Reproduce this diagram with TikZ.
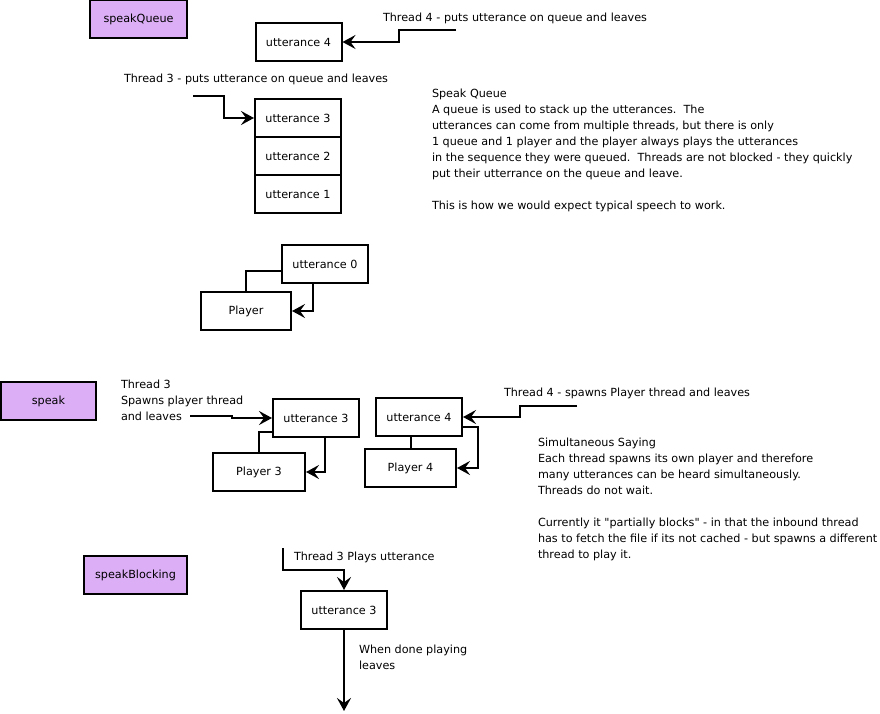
\documentclass[tikz,border=0pt]{standalone}
\usepackage{fontspec}
\setmainfont{DejaVu Sans}
\usepackage{xcolor}
\usepackage{tikz}
\usetikzlibrary{arrows.meta, positioning}

\definecolor{lilac}{RGB}{220,174,246}

\begin{document}
\begin{tikzpicture}[x=1pt, y=-1pt, line width=2pt,
        >={Stealth[length=13pt, width=14pt, inset=5pt]},
        font=\fontsize{11.2}{16}\selectfont,
        box/.style={draw, minimum width=86, minimum height=38, inner sep=0},
        api/.style={box, fill=lilac},
        note/.style={anchor=base west, inner sep=0},
        para/.style={anchor=north west, align=left, inner sep=0}]
        \useasboundingbox (0,0) rectangle (880,714);

        \node[api, minimum width=97] (speakQueue) at (138.5,19) {speakQueue};
        \node[box] (utt4) at (298.5,42) {utterance 4};
        \node[box] (utt3) at (298,118) {utterance 3};
        \node[box, on grid] (utt2) [below=38pt of utt3] {utterance 2};
        \node[box, on grid] (utt1) [below=38pt of utt2] {utterance 1};
        \node[box] (utt0) at (325,264) {utterance 0};
        \node[box, minimum width=90] (player) at (246,311) {Player};

        \node[note] (t4put) at (382,21.5) {Thread 4 - puts utterance on queue and leaves};
        \node[note] (t3put) at (123,82.5) {Thread 3 - puts utterance on queue and leaves};
        \node[para] (queueNote) at (431,88) {Speak Queue\\
            A queue is used to stack up the utterances.\ \ The\\
            utterances can come from multiple threads, but there is only\\
            1 queue and 1 player and the player always plays the utterances\\
            in the sequence they were queued.\ \ Threads are not blocked - they quickly\\
            put their utterrance on the queue and leave.\\[16pt]
            This is how we would expect typical speech to work.};

        \coordinate (t4in) at (456,30.5);
        \coordinate (t3in) at (193,96);
        \draw[->] (t4in) -- ++(-57,0) |- (utt4.east);
        \draw[->] (t3in) -- ++(31,0) |- (utt3.west);
        \draw ([yshift=-7]utt0.west) -| (player.north);
        \draw[->] ([xshift=-12]utt0.south) |- (player.east);

        \node[api, minimum width=95] (speak) at (48.5,401) {speak};
        \node[box] (sutt3) at (316,418) {utterance 3};
        \node[box, minimum width=92] (player3) at (259,472) {Player 3};
        \node[box] (sutt4) at (419,417) {utterance 4};
        \node[box, minimum width=91] (player4) at (410.5,468) {Player 4};

        \node[para] (t3spawn) at (120,379) {Thread 3\\ Spawns player thread\\ and leaves};
        \node[note] (t4spawn) at (503,396.5) {Thread 4 - spawns Player thread and leaves};
        \node[para] (speakNote) at (537,437) {Simultaneous Saying\\
            Each thread spawns its own player and therefore\\
            many utterances can be heard simultaneously.\\
            Threads do not wait.\\[16pt]
            Currently it \textquotedbl partially blocks\textquotedbl{} - in that the inbound thread\\
            has to fetch the file if its not cached - but spawns a different\\
            thread to play it.};

        \coordinate (st3in) at (190,415.5);
        \coordinate (st4in) at (577,406);
        \draw[->] (st3in) -- ++(41.5,0) |- (sutt3.west);
        \draw ([yshift=-13.5]sutt3.west) -| (player3.north);
        \draw[->] ([xshift=9]sutt3.south) |- (player3.east);
        \draw (player4.north |- sutt4.south) -- (player4.north);
        \draw[->] ([yshift=-10]sutt4.east) -- ++(15,0) |- (player4.east);
        \draw[->] (st4in) -- ++(-57,0) |- (sutt4.east);

        \node[api, minimum width=103] (speakBlocking) at (135.5,575) {speakBlocking};
        \node[box] (butt3) at (344,610) {utterance 3};
        \node[note] (t3plays) at (293,560.5) {Thread 3 Plays utterance};
        \node[para] (doneNote) at (358,644) {When done playing\\ leaves};

        \coordinate (bt3in) at (283,548);
        \coordinate (bt3out) at (344,711);
        \draw[->] (bt3in) -- ++(0,22) -| (butt3.north);
        \draw[->] (butt3.south) -- (bt3out);

    \end{tikzpicture}
\end{document}
